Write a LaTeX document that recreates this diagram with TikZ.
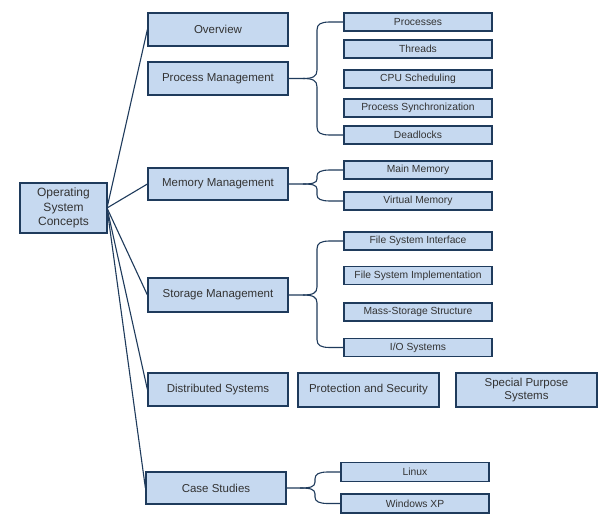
\documentclass[tikz,border=0pt]{standalone}
\usepackage{fontspec}
\setmainfont{Liberation Sans}
\definecolor{boxfill}{HTML}{C6D9F0}
\definecolor{boxline}{HTML}{1F3B5C}
\definecolor{txt}{HTML}{333333}
\begin{document}
\begin{tikzpicture}[x=1pt,y=-1pt,
  box/.style={draw=boxline, fill=boxfill, line width=1.2pt, inner sep=0pt, text=txt, align=center},
  bigbox/.style={box, minimum width=140pt, font=\fontsize{11.5}{14}\selectfont},
  smallbox/.style={box, minimum width=148pt, minimum height=18pt, font=\fontsize{10.3}{12}\selectfont},
  link/.style={draw=boxline, line width=1.1pt, line join=round}]
\useasboundingbox[fill=white] (0,0) rectangle (600,519);

\node[box, minimum width=87pt, minimum height=50pt, font=\fontsize{12}{14.5}\selectfont] (root) at (63.5,208) {Operating\\System\\Concepts};

\node[bigbox, minimum height=33pt] (ov) at (218,29.5) {Overview};
\node[bigbox, minimum height=33pt] (pm) at (218,78.5) {Process Management};
\node[bigbox, minimum height=32pt] (mm) at (218,184) {Memory Management};
\node[bigbox, minimum height=34pt] (sm) at (218,295) {Storage Management};
\node[bigbox, minimum height=33pt] (ds) at (218,389.5) {Distributed Systems};
\node[bigbox, minimum height=32pt] (cs) at (216,488) {Case Studies};

\node[smallbox] (pr) at (418,22) {Processes};
\node[smallbox] (th) at (418,49) {Threads};
\node[smallbox] (cpu) at (418,79) {CPU Scheduling};
\node[smallbox] (psy) at (418,108) {Process Synchronization};
\node[smallbox] (dl) at (418,135) {Deadlocks};
\node[smallbox] (mmain) at (418,170) {Main Memory};
\node[smallbox] (vm) at (418,201) {Virtual Memory};
\node[smallbox] (fsi) at (418,241) {File System Interface};
\node[smallbox] (fsimp) at (418,275.5) {File System Implementation};
\node[smallbox] (mass) at (418,312) {Mass-Storage Structure};
\node[smallbox] (io) at (418,347.5) {I/O Systems};

\node[bigbox, minimum width=141pt, minimum height=34pt] (prot) at (368.5,390) {Protection and Security};
\node[bigbox, minimum width=141pt, minimum height=34pt, font=\fontsize{11.5}{13}\selectfont] (spec) at (526.5,390) {Special Purpose\\Systems};

\node[smallbox, minimum height=19pt] (linux) at (415,472) {Linux};
\node[smallbox, minimum height=19pt] (win) at (415,503.5) {Windows XP};

% root connectors
\coordinate (hub) at (107,208);
\foreach \t in {ov,mm,sm,ds,cs} \draw[link] (hub) -- (\t.west);

% Process Management brace
\draw[link] (pm.east) -- (303,78.5) .. controls (313,78.5) and (317,76.5) .. (317,70) -- (317,30) .. controls (317,24) and (321,22) .. (330,22) -- (pr.west);
\draw[link] (303,78.5) .. controls (313,78.5) and (317,80.5) .. (317,87) -- (317,127) .. controls (317,133) and (321,135) .. (330,135) -- (dl.west);

% Memory Management brace
\draw[link] (mm.east) -- (303,184) .. controls (312,184) and (317,183) .. (317,179) -- (317,176) .. controls (317,172) and (321,170) .. (330,170) -- (mmain.west);
\draw[link] (303,184) .. controls (312,184) and (317,185) .. (317,189) -- (317,195) .. controls (317,199) and (321,201) .. (330,201) -- (vm.west);

% Storage Management brace
\draw[link] (sm.east) -- (303,295) .. controls (313,295) and (317,293) .. (317,287) -- (317,249) .. controls (317,243) and (321,241) .. (330,241) -- (fsi.west);
\draw[link] (303,295) .. controls (313,295) and (317,297) .. (317,303) -- (317,339.5) .. controls (317,345.5) and (321,347.5) .. (330,347.5) -- (io.west);

% Case Studies brace
\draw[link] (cs.east) -- (300,488) .. controls (310,488) and (315,487) .. (315,482) -- (315,479) .. controls (315,474) and (319,472) .. (328,472) -- (linux.west);
\draw[link] (300,488) .. controls (310,488) and (315,489) .. (315,494) -- (315,497) .. controls (315,501.5) and (319,503.5) .. (328,503.5) -- (win.west);
\end{tikzpicture}
\end{document}
